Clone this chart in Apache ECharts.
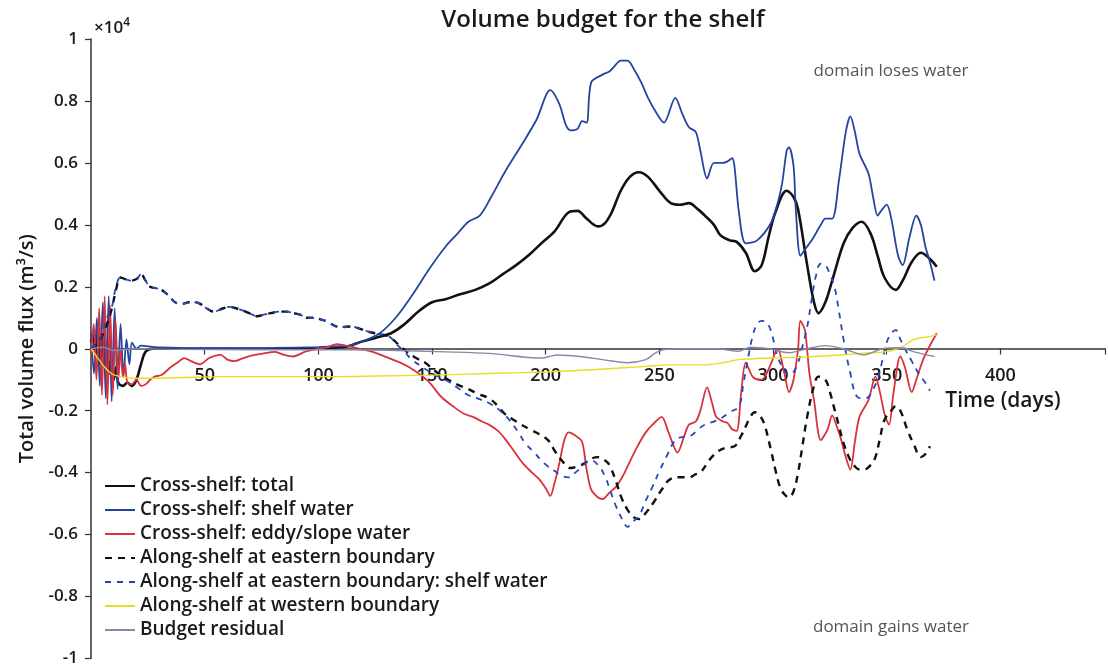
<!DOCTYPE html>
<html>
<head>
<meta charset="utf-8">
<title>Volume budget for the shelf</title>
<script src="https://cdn.jsdelivr.net/npm/echarts@6/dist/echarts.min.js"></script>
<style>
  html, body { margin: 0; padding: 0; background: #fff; }
  #chart { width: 1108px; height: 667px; }
</style>
</head>
<body>
<div id="chart"></div>
<script>
// Volume fluxes in units of 1e4 m^3/s, sampled as [day, flux]
const crossTotal = [[0,0.02],[1,0.05],[2,-0.02],[3,0.06],[4,-0.05],[5,0.04],[6,-0.06],[7,0.02],[8,-0.08],[9,-0.03],[10,-0.1],[11,-0.06],[12,-0.11],[14,-0.12],[16,-0.11],[18,-0.12],[20,-0.1],[22,-0.05],[24,-0.01],[27,0.0],[40,0.0],[60,0.0],[80,0.0],[100,0.0],[110,0.005],[114,0.01],[119,0.023],[125,0.035],[132,0.05],[138,0.08],[144,0.12],[150,0.15],[156,0.16],[162,0.175],[169,0.19],[175,0.21],[181,0.24],[187,0.27],[193,0.305],[198,0.34],[204,0.38],[210,0.44],[214,0.445],[218,0.42],[223,0.395],[226,0.405],[229,0.44],[233,0.51],[237,0.555],[241,0.57],[245,0.555],[250,0.51],[255,0.47],[259,0.465],[263,0.47],[267,0.45],[270,0.43],[274,0.4],[277,0.365],[281,0.35],[284,0.345],[288,0.31],[292,0.25],[295,0.27],[298,0.36],[301,0.44],[306,0.51],[309,0.49],[311,0.45],[315,0.27],[318,0.15],[320,0.115],[323,0.15],[326,0.22],[331,0.34],[335,0.39],[339,0.41],[343,0.37],[346,0.3],[349,0.23],[354,0.19],[357,0.22],[361,0.28],[365,0.31],[369,0.29],[372,0.265]];

const crossShelf = [[0,0.05],[1.3,-0.08],[2.6,0.1],[3.9,-0.12],[5.2,0.15],[6.5,-0.16],[7.8,0.17],[9.1,-0.17],[10.4,0.13],[11.7,-0.13],[13,0.08],[14.3,-0.09],[15.6,0.03],[16.9,-0.05],[18,0.02],[20,0.0],[22,0.01],[28,0.005],[40,0.003],[60,0.002],[80,0.003],[100,0.005],[110,0.008],[114,0.01],[120,0.025],[127,0.05],[134,0.1],[141,0.17],[149,0.26],[156,0.33],[161,0.37],[166,0.41],[171,0.43],[176,0.49],[182,0.57],[190,0.665],[196,0.74],[202,0.835],[206,0.79],[209,0.72],[211,0.705],[214,0.71],[216,0.735],[218,0.73],[220,0.86],[225,0.885],[228,0.895],[230,0.91],[233,0.93],[236,0.93],[239,0.9],[242,0.86],[245,0.81],[248,0.77],[252,0.73],[257,0.81],[260,0.76],[263,0.715],[266,0.7],[268,0.64],[271,0.55],[274,0.6],[278,0.6],[280,0.605],[282,0.615],[283,0.59],[285,0.44],[288,0.34],[293,0.35],[299,0.405],[302,0.47],[304,0.535],[306,0.64],[307,0.65],[309,0.59],[310,0.45],[312,0.3],[314,0.32],[317,0.35],[321,0.4],[323,0.42],[326,0.42],[329,0.545],[332,0.7],[334,0.75],[336,0.7],[338,0.63],[342,0.565],[344,0.49],[346,0.43],[348,0.45],[350,0.465],[352,0.42],[355,0.3],[357,0.27],[360,0.36],[363,0.43],[365,0.4],[367,0.33],[369,0.28],[371,0.22]];

const crossSlope = [[0,-0.02],[1.2,0.08],[2.4,-0.1],[3.6,0.13],[4.8,-0.15],[6,0.17],[7.2,-0.18],[8.4,0.14],[9.6,-0.15],[10.8,0.09],[12,-0.1],[13,0.0],[14,-0.09],[15,-0.05],[16,-0.11],[18,-0.115],[20,-0.1],[22,-0.12],[24,-0.115],[26,-0.1],[28,-0.09],[31,-0.085],[35,-0.06],[38,-0.045],[41,-0.03],[44,-0.04],[48,-0.05],[52,-0.03],[57,-0.02],[60,-0.035],[63,-0.04],[67,-0.03],[72,-0.02],[76,-0.015],[81,-0.01],[85,-0.02],[89,-0.025],[94,-0.01],[100,0.0],[104,0.005],[108,0.015],[114,0.007],[119,-0.002],[124,-0.01],[131,-0.03],[136,-0.045],[140,-0.06],[145,-0.085],[149,-0.11],[154,-0.155],[160,-0.19],[164,-0.21],[168,-0.22],[172,-0.235],[175,-0.245],[179,-0.265],[182,-0.29],[186,-0.33],[190,-0.37],[194,-0.4],[197,-0.42],[200,-0.45],[202,-0.475],[204,-0.43],[206,-0.37],[208,-0.3],[210,-0.27],[213,-0.28],[216,-0.3],[218,-0.39],[220,-0.455],[223,-0.48],[225,-0.485],[228,-0.465],[231,-0.445],[234,-0.41],[236,-0.38],[240,-0.32],[244,-0.27],[247,-0.245],[251,-0.22],[254,-0.27],[258,-0.335],[261,-0.28],[263,-0.245],[266,-0.235],[268,-0.2],[271,-0.125],[273,-0.17],[275,-0.22],[278,-0.235],[280,-0.24],[282,-0.26],[284,-0.265],[286,-0.14],[288,-0.045],[291,-0.09],[294,-0.1],[296,-0.095],[299,-0.05],[302,0.0],[305,-0.08],[307,-0.14],[309,-0.1],[311,0.0],[312,0.09],[314,0.06],[316,-0.08],[318,-0.165],[321,-0.295],[324,-0.26],[326,-0.215],[328,-0.25],[330,-0.295],[332,-0.35],[334,-0.39],[336,-0.3],[338,-0.22],[342,-0.165],[345,-0.09],[347,-0.14],[349,-0.21],[351,-0.245],[353,-0.14],[356,-0.025],[358,-0.06],[361,-0.14],[363,-0.1],[366,-0.035],[369,0.01],[372,0.05]];

const alongEast = [[0,0.0],[3,0.02],[6,0.06],[9,0.125],[11,0.19],[13,0.23],[15,0.225],[17.5,0.22],[20,0.225],[22,0.24],[24,0.22],[26,0.2],[29,0.195],[32,0.185],[35,0.165],[37,0.15],[40,0.145],[43,0.15],[46,0.15],[48,0.145],[51,0.13],[54,0.12],[58,0.13],[61,0.135],[64,0.13],[68,0.12],[71,0.11],[73,0.105],[76,0.11],[79,0.115],[83,0.12],[86,0.12],[89,0.115],[92,0.11],[95,0.1],[98,0.1],[101,0.095],[104,0.087],[107,0.075],[110,0.07],[114,0.072],[118,0.065],[122,0.055],[126,0.048],[131,0.04],[135,0.015],[139,-0.01],[143,-0.03],[147,-0.045],[151,-0.07],[156,-0.095],[161,-0.115],[166,-0.13],[170,-0.145],[175,-0.16],[179,-0.185],[182,-0.21],[187,-0.235],[193,-0.26],[197,-0.275],[201,-0.295],[204,-0.33],[207,-0.36],[211,-0.385],[214,-0.38],[217,-0.37],[220,-0.355],[223,-0.35],[226,-0.36],[228,-0.375],[231,-0.43],[233,-0.475],[236,-0.52],[239,-0.545],[241,-0.55],[244,-0.53],[248,-0.49],[251,-0.455],[255,-0.42],[259,-0.415],[263,-0.415],[266,-0.405],[268,-0.4],[271,-0.37],[273,-0.35],[276,-0.33],[279,-0.32],[283,-0.315],[286,-0.28],[288,-0.25],[290,-0.22],[292,-0.205],[294,-0.215],[296,-0.24],[299,-0.325],[301,-0.39],[303,-0.445],[305,-0.47],[307,-0.48],[309,-0.46],[311,-0.4],[313,-0.31],[315,-0.22],[318,-0.12],[320,-0.09],[323,-0.1],[325,-0.14],[327,-0.195],[329,-0.25],[331,-0.305],[334,-0.36],[336,-0.38],[338,-0.39],[340,-0.39],[343,-0.375],[345,-0.35],[347,-0.29],[349,-0.23],[352,-0.2],[354,-0.185],[356,-0.2],[359,-0.26],[362,-0.31],[365,-0.35],[367,-0.34],[369,-0.315]];

const alongEastShelf = [[0,0.0],[3,0.02],[5,0.05],[7,0.1],[9,0.13],[11,0.2],[13,0.23],[15,0.225],[17.5,0.22],[20,0.225],[22,0.24],[24,0.22],[26,0.2],[29,0.195],[32,0.185],[35,0.165],[37,0.15],[40,0.145],[43,0.15],[46,0.15],[48,0.145],[51,0.13],[54,0.12],[58,0.13],[61,0.135],[64,0.13],[68,0.12],[71,0.11],[73,0.105],[76,0.11],[79,0.115],[83,0.12],[86,0.12],[89,0.115],[92,0.11],[95,0.1],[98,0.1],[101,0.095],[104,0.087],[107,0.075],[110,0.07],[114,0.072],[118,0.065],[122,0.055],[126,0.048],[131,0.04],[135,0.01],[138,-0.01],[141,-0.035],[145,-0.055],[149,-0.075],[153,-0.09],[157,-0.105],[162,-0.13],[166,-0.15],[170,-0.16],[175,-0.175],[180,-0.2],[184,-0.23],[188,-0.27],[191,-0.305],[195,-0.335],[198,-0.36],[201,-0.38],[204,-0.395],[207,-0.41],[210,-0.415],[213,-0.4],[216,-0.38],[218,-0.365],[220,-0.36],[223,-0.375],[226,-0.41],[228,-0.45],[231,-0.51],[234,-0.555],[236,-0.575],[238,-0.56],[241,-0.54],[244,-0.49],[247,-0.445],[250,-0.395],[253,-0.35],[257,-0.295],[260,-0.285],[264,-0.28],[267,-0.26],[270,-0.245],[274,-0.235],[277,-0.225],[281,-0.205],[285,-0.185],[287,-0.11],[289,-0.03],[291,0.04],[293,0.08],[295,0.09],[297,0.085],[299,0.06],[302,-0.025],[305,-0.07],[307,-0.085],[309,-0.075],[311,-0.045],[313,0.01],[315,0.07],[317,0.16],[319,0.24],[321,0.275],[323,0.27],[325,0.24],[327,0.2],[329,0.12],[331,0.03],[334,-0.08],[337,-0.155],[340,-0.16],[342,-0.155],[344,-0.13],[346,-0.1],[348,-0.04],[350,0.02],[352,0.05],[354,0.06],[356,0.03],[358,0.0],[361,-0.04],[364,-0.08],[367,-0.11],[369,-0.135]];

const alongWest = [[0,0],[2,-0.02],[4,-0.04],[6,-0.06],[9,-0.08],[13,-0.09],[20,-0.095],[28,-0.095],[40,-0.093],[57,-0.09],[80,-0.09],[105,-0.09],[125,-0.088],[149,-0.085],[175,-0.08],[200,-0.075],[222,-0.067],[244,-0.057],[255,-0.052],[270,-0.052],[278,-0.045],[285,-0.035],[299,-0.03],[314,-0.027],[329,-0.02],[343,-0.013],[349,-0.01],[356,0.003],[362,0.03],[369,0.04],[372,0.045]];

const residual = [[0,0],[5,0.005],[10,-0.005],[20,0.0],[40,-0.002],[70,-0.003],[100,-0.003],[130,-0.005],[156,-0.01],[175,-0.015],[198,-0.03],[205,-0.02],[215,-0.025],[225,-0.035],[236,-0.045],[244,-0.035],[248,-0.015],[252,-0.003],[260,0.0],[275,0.0],[285,-0.008],[290,0.005],[298,0.0],[307,-0.013],[315,0.0],[323,0.01],[331,0.0],[340,-0.02],[348,0.0],[356,0.003],[362,-0.01],[371,-0.025]];

const seriesNames = [
  'Cross-shelf: total',
  'Cross-shelf: shelf water',
  'Cross-shelf: eddy/slope water',
  'Along-shelf at eastern boundary',
  'Along-shelf at eastern boundary: shelf water',
  'Along-shelf at western boundary',
  'Budget residual'
];

const FONT = '"Open Sans", "Noto Sans", sans-serif';
const INK = '#1a1a1a';

function line(name, data, color, width, type, smooth) {
  return {
    name: name,
    type: 'line',
    data: data,
    symbol: 'none',
    smooth: smooth,
    lineStyle: { color: color, width: width, type: type },
    itemStyle: { color: color },
    emphasis: { disabled: true }
  };
}

const chart = echarts.init(document.getElementById('chart'));
chart.setOption({
  animation: false,
  textStyle: { fontFamily: FONT },
  grid: { left: 91, right: 0, top: 39, bottom: 8, containLabel: false },
  legend: {
    orient: 'vertical',
    left: 104,
    top: 476,
    itemGap: 4,
    itemWidth: 30,
    itemHeight: 14,
    padding: 0,
    itemStyle: { color: 'rgba(0,0,0,0)', borderColor: 'rgba(0,0,0,0)', borderWidth: 0 },
    textStyle: { fontFamily: FONT, fontSize: 19, fontWeight: 600, color: INK, lineHeight: 20 },
    data: seriesNames
  },
  xAxis: {
    type: 'value',
    min: 0,
    max: 446,
    interval: 50,
    // the time axis sits on the zero-flux line, 310 px above the plot bottom
    offset: -310,
    axisLine: { onZero: false, lineStyle: { color: '#333', width: 1.5 } },
    axisTick: { show: true, length: 6, lineStyle: { color: '#333', width: 1.2 } },
    axisLabel: {
      margin: 18,
      fontSize: 18,
      fontWeight: 600,
      color: INK,
      fontFamily: FONT,
      formatter: function (v) { return (v === 0 || v > 400) ? '' : String(v); }
    },
    splitLine: { show: false }
  },
  yAxis: {
    type: 'value',
    min: -1,
    max: 1,
    interval: 0.2,
    name: 'Total volume flux (m³/s)',
    nameLocation: 'middle',
    nameGap: 50,
    nameRotate: 90,
    nameTextStyle: { fontSize: 20, fontWeight: 600, color: INK, fontFamily: FONT },
    axisLine: { show: true, onZero: false, lineStyle: { color: '#333', width: 1.5 } },
    axisTick: { show: true, length: 6, lineStyle: { color: '#333', width: 1.2 } },
    axisLabel: {
      margin: 13,
      fontSize: 17,
      fontWeight: 600,
      color: INK,
      fontFamily: FONT,
      formatter: function (v) { return String(Math.round(v * 10) / 10); }
    },
    splitLine: { show: false }
  },
  graphic: [
    {
      type: 'text', x: 603, y: 20,
      style: { text: 'Volume budget for the shelf', fill: INK, font: '600 24px ' + FONT, align: 'center', verticalAlign: 'middle' }
    },
    {
      type: 'text', x: 94, y: 28,
      style: {
        text: '×10{s|4}', fill: INK, font: '600 17px ' + FONT, align: 'left', verticalAlign: 'middle',
        rich: { s: { fontSize: 12, fontWeight: 600, fontFamily: FONT, verticalAlign: 'top', padding: [0, 0, 10, 0] } }
      }
    },
    {
      type: 'text', x: 1003, y: 401,
      style: { text: 'Time (days)', fill: INK, font: '600 21px ' + FONT, align: 'center', verticalAlign: 'middle' }
    },
    {
      type: 'text', x: 891, y: 71,
      style: { text: 'domain loses water', fill: '#555', font: '17px ' + FONT, align: 'center', verticalAlign: 'middle' }
    },
    {
      type: 'text', x: 891, y: 627,
      style: { text: 'domain gains water', fill: '#555', font: '17px ' + FONT, align: 'center', verticalAlign: 'middle' }
    }
  ],
  series: [
    line(seriesNames[0], crossTotal, '#111111', 2.6, 'solid', 0.35),
    line(seriesNames[1], crossShelf, '#2444a0', 1.8, 'solid', 0.3),
    line(seriesNames[2], crossSlope, '#d8323c', 1.8, 'solid', 0.3),
    line(seriesNames[3], alongEast, '#111111', 2.4, [7, 6], 0.4),
    line(seriesNames[4], alongEastShelf, '#2448b8', 1.8, [6, 6], 0.4),
    line(seriesNames[5], alongWest, '#e6de24', 1.4, 'solid', 0.3),
    line(seriesNames[6], residual, '#8a88a6', 1.4, 'solid', 0.3)
  ]
});
</script>
</body>
</html>
